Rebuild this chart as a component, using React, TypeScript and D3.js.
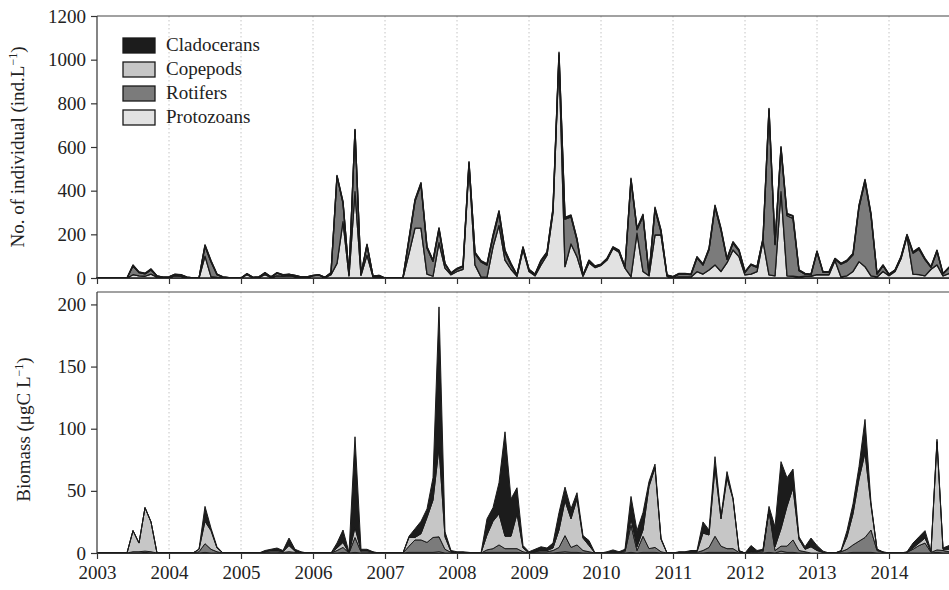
import React, { useEffect, useRef } from "react";
import * as d3 from "d3";

// monthly series, Jan 2003 .. Dec 2014 (one row per year)
const yearTicks = [2003, 2004, 2005, 2006, 2007, 2008, 2009, 2010, 2011, 2012, 2013, 2014];
const groups = ["Cladocerans", "Copepods", "Rotifers", "Protozoans"];
const countTicks = [0, 200, 400, 600, 800, 1000, 1200];
const biomassTicks = [0, 50, 100, 150, 200];

// No. of individual (ind.L-1)
const countProtozoans = [
  0, 0, 0, 0, 0, 0, 15, 10, 8, 18, 4, 2,
  3, 10, 8, 2, 0, 0, 100, 6, 3, 2, 1, 1,
  0, 15, 2, 3, 15, 3, 10, 8, 10, 6, 3, 3,
  10, 12, 2, 15, 67, 258, 10, 395, 12, 105, 5, 8,
  0, 0, 0, 1, 113, 228, 228, 18, 8, 162, 45, 15,
  30, 40, 515, 60, 5, 3, 143, 241, 82, 40, 8, 130,
  30, 10, 60, 105, 300, 1010, 52, 156, 98, 8, 70, 48,
  58, 82, 135, 118, 45, 6, 205, 30, 10, 197, 197, 8,
  3, 5, 5, 5, 29, 18, 37, 60, 30, 70, 128, 98,
  14, 18, 29, 170, 14, 10, 395, 10, 8, 5, 8, 8,
  15, 15, 15, 80, 5, 10, 30, 75, 52, 10, 5, 30,
  10, 30, 88, 190, 18, 15, 10, 40, 60, 10, 20, 25,
];
const countRotifers = [
  0, 0, 0, 0, 0, 0, 40, 15, 11, 19, 5, 2,
  2, 5, 5, 2, 0, 0, 45, 68, 12, 2, 1, 1,
  0, 3, 1, 2, 7, 2, 12, 5, 6, 5, 2, 2,
  1, 2, 1, 7, 398, 85, 6, 280, 5, 44, 4, 3,
  0, 0, 0, 1, 62, 123, 200, 119, 68, 60, 18, 6,
  10, 12, 10, 52, 69, 56, 45, 55, 35, 19, 5, 8,
  7, 6, 16, 9, 12, 10, 217, 124, 75, 4, 8, 4,
  3, 4, 4, 5, 4, 442, 16, 253, 6, 116, 15, 4,
  2, 13, 13, 10, 63, 41, 92, 264, 189, 15, 31, 26,
  12, 42, 20, 6, 754, 143, 198, 275, 265, 28, 10, 7,
  104, 11, 11, 6, 58, 66, 76, 249, 389, 277, 13, 26,
  6, 4, 6, 4, 96, 117, 74, 9, 62, 9, 26, 31,
];
const countCopepods = [
  0, 0, 0, 0, 0, 0, 3, 2, 2, 3, 1, 0,
  0, 2, 1, 0, 0, 0, 5, 4, 2, 1, 0, 0,
  0, 1, 0, 0, 2, 0, 2, 1, 1, 1, 0, 0,
  1, 1, 0, 2, 3, 5, 1, 4, 1, 4, 0, 1,
  0, 0, 0, 0, 5, 6, 6, 5, 4, 6, 3, 2,
  3, 3, 5, 4, 4, 4, 6, 9, 8, 6, 1, 3,
  2, 1, 4, 4, 5, 10, 6, 6, 5, 1, 3, 2,
  2, 3, 3, 3, 2, 6, 5, 6, 1, 8, 6, 1,
  1, 2, 2, 2, 4, 3, 5, 7, 6, 3, 5, 4,
  2, 3, 2, 4, 6, 4, 6, 8, 10, 3, 2, 2,
  3, 2, 2, 3, 3, 4, 5, 7, 8, 6, 2, 3,
  1, 2, 3, 4, 4, 5, 4, 2, 4, 1, 3, 3,
];
const countCladocerans = [
  0, 0, 0, 0, 0, 0, 2, 1, 1, 2, 0, 0,
  0, 1, 1, 0, 0, 0, 2, 2, 1, 0, 0, 0,
  0, 1, 0, 0, 1, 0, 1, 1, 1, 0, 0, 0,
  0, 0, 0, 1, 2, 2, 1, 2, 0, 2, 0, 0,
  0, 0, 0, 0, 2, 3, 3, 2, 2, 2, 1, 1,
  1, 1, 3, 2, 2, 2, 3, 3, 3, 2, 1, 2,
  1, 1, 2, 2, 3, 4, 3, 3, 2, 1, 1, 1,
  1, 1, 1, 2, 1, 3, 2, 3, 1, 3, 2, 1,
  0, 1, 1, 1, 2, 2, 2, 3, 3, 2, 2, 2,
  1, 1, 1, 2, 3, 2, 3, 3, 3, 1, 1, 1,
  2, 1, 1, 1, 1, 2, 2, 3, 3, 3, 1, 1,
  1, 1, 1, 2, 2, 2, 2, 1, 2, 1, 1, 1,
];

// Biomass (ugC L-1)
const bioProtozoans = [
  0, 0, 0, 0, 0, 0, 0, 0, 0.5, 0, 0, 0,
  0, 0, 0, 0, 0, 0, 0.5, 0, 0, 0, 0, 0,
  0, 0, 0, 0, 0, 0, 0, 0, 0, 0, 0, 0,
  0, 0, 0, 0, 0, 0.5, 0, 0.5, 0, 0, 0, 0,
  0, 0, 0, 0, 0.5, 0.5, 0.5, 0.5, 0.5, 1, 0, 0,
  0, 0, 0, 0, 0, 0.5, 0.5, 0.5, 0.5, 0.5, 0.5, 0,
  0, 0, 0, 0, 0, 0.5, 1, 0.5, 0.5, 0, 0, 0,
  0, 0, 0, 0, 0, 0.5, 0, 0.5, 0.5, 0.5, 0, 0,
  0, 0, 0, 0, 0, 0, 0.5, 0.5, 0.5, 0.5, 0.5, 0,
  0, 0, 0, 0, 0.5, 0, 1.5, 0.5, 0.5, 0, 0, 0,
  0, 0, 0, 0, 0, 0, 0.5, 0.5, 0.5, 0.5, 0, 0,
  0, 0, 0, 0, 0, 0, 0, 0, 0.5, 0, 0, 0,
];
const bioRotifers = [
  0, 0, 0, 0, 0, 0, 1, 1, 1, 1, 0, 0,
  0, 0, 0, 0, 0, 1, 7, 3, 1, 0, 0, 0,
  0, 0, 0, 0, 0.5, 1, 1, 0.5, 1, 0.5, 0, 0,
  0, 0, 0, 0, 2, 4, 0, 12, 1, 1, 0.5, 0,
  0, 0, 0, 0, 5, 10, 10, 8, 12, 12, 3, 0.5,
  0, 0, 0, 0, 0, 2, 3, 6, 3, 3, 3, 1,
  0, 0.5, 1, 1, 2, 4, 13, 4, 6, 2, 1, 0,
  0, 0, 0.5, 0, 1, 22, 2, 13, 3, 4, 1, 0,
  0, 0, 0, 0.5, 0.5, 2, 4, 13, 5, 3, 3, 0.5,
  0, 1, 0.5, 1, 34, 2, 4, 5, 10, 2, 1, 0,
  0, 0, 0, 0, 1, 3, 6, 9, 12, 18, 2, 0.5,
  0, 0, 0, 0.5, 3, 6, 8, 0.5, 2, 2, 1, 1,
];
const bioCopepods = [
  0, 0, 0, 0, 0, 0, 17, 7, 35, 24, 0, 0,
  0, 0, 0, 0, 0, 2, 18, 15, 3, 0, 0, 0,
  0, 0, 0, 0, 0.5, 1, 1, 0.5, 5, 1, 0, 0,
  0, 0, 0, 0, 2, 4, 0, 8, 1, 1, 0, 0,
  0, 0, 0, 0, 7, 2, 5, 20, 30, 72, 10, 0.5,
  0, 0, 0, 0, 0, 12, 22, 25, 10, 10, 28, 3,
  0, 0.5, 1, 1, 2, 14, 28, 23, 37, 10, 5, 0,
  0, 0, 0.5, 0, 1, 5, 3, 5, 50, 64, 10, 0,
  0, 0.5, 0.5, 0.5, 0.5, 14, 10, 55, 22, 57, 40, 1,
  0, 0, 0.5, 1, 0, 3, 14, 32, 42, 9, 2, 5,
  2, 0.5, 0, 0, 0.5, 10, 25, 50, 68, 20, 1, 0,
  0, 0, 0, 0, 1, 2, 4, 0.5, 87, 1, 2, 3,
];
const bioCladocerans = [
  0, 0, 0, 0, 0, 0, 0, 0, 0, 0, 0, 0,
  0, 0, 0, 0, 0, 0, 12, 2, 1, 0, 0, 0,
  0, 0, 0, 0, 1, 1, 2, 1, 6, 1.5, 1, 0,
  0, 0, 0, 0, 4, 10, 0.5, 73, 1, 1, 0.5, 0,
  0, 0, 0, 0, 1, 7, 10, 7, 18, 113, 4, 1,
  1, 1, 0.5, 0, 0, 13, 11, 25, 84, 30, 21, 2,
  1, 2, 3, 2, 4, 14, 11, 8, 5, 2, 4, 0,
  0, 1, 1.5, 1, 1, 18, 13, 14, 4, 3, 1, 0,
  0, 0.5, 0.5, 1, 1, 9, 4, 9, 2, 5, 1, 0.5,
  0, 5, 1, 1, 3, 16, 54, 23, 15, 2, 2, 7,
  4, 1, 0, 0, 0.5, 5, 8, 10, 27, 2, 0, 0.5,
  0, 0, 0, 0.5, 4, 5, 6, 0.5, 2, 1, 3, 4,
];

const colors = {
  Cladocerans: "#1c1c1c",
  Copepods: "#c6c6c6",
  Rotifers: "#7b7b7b",
  Protozoans: "#e2e2e2",
};
const stackOrder = ["Protozoans", "Rotifers", "Copepods", "Cladocerans"];
const font = "Liberation Serif, Times New Roman, serif";

const App = () => {
  const chart = useRef(null);

  useEffect(() => {
    const width = 949;
    const height = 590;
    const left = 97;

    const svg = d3.select(chart.current)
      .attr("width", width)
      .attr("height", height);
    svg.selectAll("*").remove();

    const x = d3.scaleLinear().domain([2003, 2015]).range([left, 961]);

    const panels = [
      {
        top: 16, bottom: 278, max: 1200, ticks: countTicks, labels: false,
        series: [countProtozoans, countRotifers, countCopepods, countCladocerans],
        title: ["No. of individual (ind.L", "\u22121", ")"], titleX: 24, strokeW: 1.3,
      },
      {
        top: 292, bottom: 553, max: 210, ticks: biomassTicks, labels: true,
        series: [bioProtozoans, bioRotifers, bioCopepods, bioCladocerans],
        title: ["Biomass (\u03bcgC L", "\u22121", ")"], titleX: 30, strokeW: 1,
      },
    ];

    panels.forEach(p => {
      const y = d3.scaleLinear().domain([0, p.max]).range([p.bottom, p.top]);
      const g = svg.append("g");

      // dotted year lines
      g.selectAll(".grid")
        .data(yearTicks.slice(1))
        .enter().append("line")
        .attr("x1", d => x(d)).attr("x2", d => x(d))
        .attr("y1", p.top).attr("y2", p.bottom)
        .attr("stroke", "#b5b5b5")
        .attr("stroke-width", 0.8)
        .attr("stroke-dasharray", "1.5,2.5");

      const rows = p.series[0].map((_, i) => {
        const r = { t: 2003 + i / 12 };
        stackOrder.forEach((k, j) => { r[k] = p.series[j][i]; });
        return r;
      });
      const stacked = d3.stack().keys(stackOrder)(rows);

      const area = d3.area()
        .x(d => x(d.data.t))
        .y0(d => y(d[0]))
        .y1(d => y(d[1]));

      g.selectAll(".layer")
        .data(stacked)
        .enter().append("path")
        .attr("d", area)
        .attr("fill", d => colors[d.key])
        .attr("stroke", "#1a1a1a")
        .attr("stroke-width", p.strokeW)
        .attr("stroke-linejoin", "round");

      // frame top line
      g.append("line")
        .attr("x1", left).attr("x2", width)
        .attr("y1", p.top).attr("y2", p.top)
        .attr("stroke", "#444").attr("stroke-width", 1.2);

      const yAxis = g.append("g")
        .attr("transform", `translate(${left},0)`)
        .call(d3.axisLeft(y).tickValues(p.ticks).tickFormat(d3.format("d")).tickSize(6).tickSizeOuter(0).tickPadding(5));
      yAxis.attr("font-family", font);
      yAxis.select(".domain").attr("d", `M-0,${p.top}V${p.bottom}`).attr("stroke", "#333").attr("stroke-width", 1.2);
      yAxis.selectAll("line").attr("stroke", "#333").attr("stroke-width", 1.2);
      yAxis.selectAll("text")
        .attr("font-family", font).attr("font-size", 19).attr("fill", "#222");

      const xAxis = g.append("g")
        .attr("transform", `translate(0,${p.bottom})`)
        .call(d3.axisBottom(x).tickValues(yearTicks).tickFormat(d3.format("d")).tickSize(6).tickSizeOuter(0).tickPadding(7));
      xAxis.attr("font-family", font);
      xAxis.select(".domain").attr("stroke", "#333").attr("stroke-width", 1.2);
      xAxis.selectAll("line").attr("stroke", "#333").attr("stroke-width", 1.2);
      xAxis.selectAll("text")
        .attr("font-family", font).attr("font-size", 19).attr("fill", "#222")
        .style("display", p.labels ? null : "none");

      const t = g.append("text")
        .attr("transform", `translate(${p.titleX},${(p.top + p.bottom) / 2 + (p.labels ? 7 : 0)}) rotate(-90)`)
        .attr("text-anchor", "middle")
        .attr("font-family", font)
        .attr("font-size", 19)
        .attr("fill", "#222");
      t.append("tspan").text(p.title[0]);
      t.append("tspan").attr("dy", -7).attr("font-size", 12).text(p.title[1]);
      t.append("tspan").attr("dy", 7).text(p.title[2]);
    });

    // legend
    const legend = svg.append("g").attr("transform", "translate(123,38)");
    groups.forEach((name, i) => {
      const row = legend.append("g").attr("transform", `translate(0,${i * 24})`);
      row.append("rect")
        .attr("width", 32).attr("height", 15)
        .attr("fill", colors[name])
        .attr("stroke", "#1a1a1a").attr("stroke-width", 1.3);
      row.append("text")
        .attr("x", 43).attr("y", 13)
        .attr("font-family", font).attr("font-size", 19).attr("fill", "#222")
        .text(name);
    });
  }, []);

  return (
    <div>
      <svg ref={chart} style={{ position: "absolute", left: 0, top: 0, background: "#fff" }} />
    </div>
  );
};

export default App;
